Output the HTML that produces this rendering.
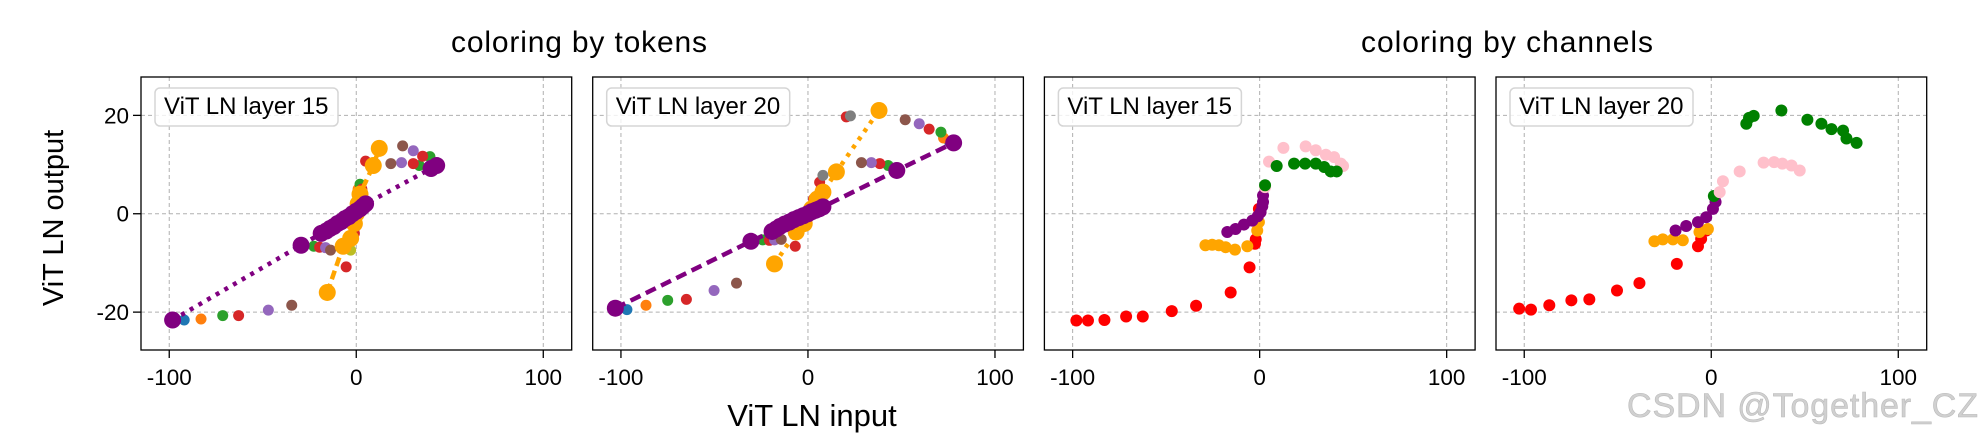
<!DOCTYPE html>
<html><head><meta charset="utf-8"><style>
html,body{margin:0;padding:0;background:#fff}
svg{display:block;font-family:"Liberation Sans",Arial,sans-serif}
</style></head><body>
<svg id="fig" width="1982" height="442" viewBox="0 0 1982 442" xmlns="http://www.w3.org/2000/svg">
<text x="579" y="52" font-size="30" text-anchor="middle" textLength="256">coloring by tokens</text>
<text x="1507" y="52" font-size="30" text-anchor="middle" textLength="292">coloring by channels</text>
<text x="0" y="0" font-size="29" text-anchor="middle" transform="translate(63,218) rotate(-90)">ViT LN output</text>
<text x="812" y="426" font-size="31" text-anchor="middle">ViT LN input</text>
<text x="1627" y="417" font-size="34" fill="#d0d0d0" stroke="#bbb" stroke-width="0.6" textLength="351">CSDN @Together_CZ</text>
</svg>
<script>
const xTicks=[-100,0,100];
const yTicks=[-20,0,20];
const legendLabels=["ViT LN layer 15","ViT LN layer 20","ViT LN layer 15","ViT LN layer 20"];

// panel 1: tokens, layer 15
const t15Blue=[[-92,-21.6],[-1,-3],[1,4]];
const t15Orange=[[-83,-21.4],[1,5]];
const t15Green=[[-71.4,-20.7],[-22.7,-6.6],[39.4,11.6],[33.7,9.8],[2,6]];
const t15Red=[[-62.9,-20.7],[-19.6,-6.8],[35.5,11.7],[30.5,10.2],[5,10.7],[-5.4,-10.8],[3,5],[1,3],[-1,-4],[2,2],[-2,-5]];
const t15Lpurple=[[-47,-19.6],[-16.4,-6.9],[30.5,12.8],[24.2,10.4]];
const t15Brown=[[-34.5,-18.6],[-13.75,-7.4],[24.8,13.8],[18.5,10.2]];
const t15Olive=[[-3,-7.4]];
const t15BigOrange=[[-15.5,-16],[-7,-6.6],[-3,-5],[-1,-2],[0,0],[1,2],[2,4],[9.1,9.8],[12.3,13.3]];
const t15BigPurple=[[-98.2,-21.6],[-29.5,-6.4],[-18.75,-4],[-16,-3.5],[-14,-3],[-12,-2.6],[-10,-2],[-8,-1.6],[-6,-1],[-4,-0.6],[-2,0],[0,0.5],[2,1],[3.5,1.5],[5,2],[40,9.2],[43,9.8]];

// panel 2: tokens, layer 20
const t20Blue=[[-96.8,-19.5],[75.7,14.6]];
const t20Orange=[[-86.6,-18.6],[72.5,15.4]];
const t20Green=[[-75,-17.6],[-24.2,-5.3],[71.1,16.6],[42.9,9.8]];
const t20Red=[[-65,-17.4],[-20.6,-5.4],[-6.8,-6.6],[64.8,17.2],[38.4,10.2],[20.5,19.7],[6.25,6.4],[7,5],[3,3]];
const t20Lpurple=[[-50.2,-15.6],[-17.9,-5.3],[59.5,18.3],[33.9,10.4]];
const t20Brown=[[-38.2,-14.1],[-14.3,-5.2],[52,19.1],[28.6,10.4]];
const t20Gray=[[22.7,19.9],[8,7.8]];
const t20BigOrange=[[-17.9,-10.2],[-6.3,-3.7],[-2,-2],[2,1],[5,3],[8,4.4],[15.2,8.5],[38,21]];
const t20BigPurple=[[-103,-19.2],[-30.5,-5.6],[-19.2,-3.6],[-17,-3.1],[-15,-2.6],[-12.5,-2.1],[-10,-1.7],[-7.5,-1.2],[-5,-0.8],[-2.5,-0.4],[0,0],[2,0.4],[4,0.7],[6,1],[8,1.4],[47.5,8.8],[77.9,14.4]];

// panel 3: channels, layer 15
const c15Red=[[-98,-21.7],[-91.8,-21.7],[-83,-21.6],[-71.4,-20.9],[-62.5,-20.9],[-47,-19.8],[-34,-18.7],[-15.5,-16],[-5.4,-10.9],[-2.5,-6.1],[-2.1,-5.2],[-1.2,-1.7],[-0.4,1]];
const c15Orange=[[-29,-6.4],[-25.4,-6.3],[-21.8,-6.4],[-18.2,-6.8],[-13.2,-7.3],[-6.6,-6.6],[-1.3,-3.4],[-0.4,-1.7]];
const c15Purple=[[-17.3,-3.7],[-12.9,-3.1],[-8.4,-2.2],[-3.9,-1.4],[-1,-0.5],[0.5,0.3],[1.4,1.5],[1.8,2.4],[1.8,3.7]];
const c15Pink=[[2.9,5.4],[5,10.6],[12.7,13.4],[24.6,13.7],[30,12.9],[35.4,12],[39.8,11.5],[43.4,10.2],[44.6,9.7]];
const c15Green=[[2.9,5.8],[9.1,9.7],[18.4,10.2],[24.3,10.2],[30,10.2],[34.5,9.5],[38,8.6],[41.2,8.6]];

// panel 4: channels, layer 20
const c20Red=[[-102.7,-19.3],[-96.4,-19.5],[-86.6,-18.6],[-74.8,-17.6],[-65.2,-17.4],[-50.4,-15.6],[-38.4,-14.1],[-18.4,-10.2],[-7.1,-6.6],[-5.4,-5.1],[-2.7,-3.4]];
const c20Orange=[[-30.4,-5.6],[-25.9,-5.2],[-20.5,-5.2],[-15.2,-5.4],[-6.3,-3.7],[-1.8,-3.1]];
const c20Purple=[[-19.1,-3.4],[-13.4,-2.5],[-7.1,-1.7],[-2.7,-0.7],[0.9,1],[2.3,2.4],[1.8,3.4]];
const c20Green=[[1.4,3.6],[18.75,18.3],[20.2,19.5],[22.7,19.9],[37.5,21],[51.4,19.1],[58.9,18.3],[64.3,17.2],[70.5,16.9],[72.3,15.3],[77.7,14.4]];
const c20Pink=[[4.5,4.4],[6.25,6.6],[15.2,8.6],[28,10.4],[33.6,10.5],[38,10.2],[42.9,9.8],[47.3,8.8]];

const NS="http://www.w3.org/2000/svg";
const svg=document.getElementById('fig');
const lefts=[141,592.7,1044.4,1496];
const PW=430.7, TOP=77, BOT=350;
const XMIN=-115.1, XMAX=115.2, YMIN=-27.7, YMAX=27.8;
function mk(tag,attrs,parent){const e=document.createElementNS(NS,tag);for(const k in attrs)e.setAttribute(k,attrs[k]);(parent||svg).appendChild(e);return e;}
function sx(L,v){return L+(v-XMIN)/(XMAX-XMIN)*PW;}
function sy(v){return BOT-(v-YMIN)/(YMAX-YMIN)*(BOT-TOP);}

const panelSeries=[
 [[t15Blue,'#1f77b4'],[t15Orange,'#ff7f0e'],[t15Green,'#2ca02c'],[t15Red,'#d62728'],[t15Lpurple,'#9467bd'],[t15Brown,'#8c564b'],[t15Olive,'#bcbd22'],[t15BigOrange,'#ffa500','big','9,5'],[t15BigPurple,'#800080','big','4,6']],
 [[t20Blue,'#1f77b4'],[t20Orange,'#ff7f0e'],[t20Green,'#2ca02c'],[t20Red,'#d62728'],[t20Lpurple,'#9467bd'],[t20Brown,'#8c564b'],[t20Gray,'#7f7f7f'],[t20BigOrange,'#ffa500','big','4,6'],[t20BigPurple,'#800080','big','11,6']],
 [[c15Red,'#ff0000'],[c15Orange,'#ffa500'],[c15Purple,'#800080'],[c15Pink,'#ffc0cb'],[c15Green,'#008000']],
 [[c20Red,'#ff0000'],[c20Orange,'#ffa500'],[c20Purple,'#800080'],[c20Green,'#008000'],[c20Pink,'#ffc0cb']]
];

lefts.forEach((L,i)=>{
  const g=mk('g',{});
  
  
  xTicks.forEach(t=>{
    const gl=mk('line',{x1:sx(L,t),x2:sx(L,t),y1:TOP,y2:BOT,stroke:'#b0b0b0','stroke-width':1,'stroke-dasharray':'4,3'},g);
    
    
    const tk=mk('line',{x1:sx(L,t),x2:sx(L,t),y1:BOT,y2:BOT+8,stroke:'#000','stroke-width':1.3},g);
    
    
    const tl=mk('text',{x:sx(L,t),y:BOT+35,'font-size':22.5,'text-anchor':'middle'},g);
    
    
    tl.textContent=String(t);
  });
  yTicks.forEach(t=>{
    const gl=mk('line',{x1:L,x2:L+PW,y1:sy(t),y2:sy(t),stroke:'#b0b0b0','stroke-width':1,'stroke-dasharray':'4,3'},g);
    
    
    if(i===0){
      const tk=mk('line',{x1:L-8,x2:L,y1:sy(t),y2:sy(t),stroke:'#000','stroke-width':1.3},g);
      
      
      const tl=mk('text',{x:L-12,y:sy(t)+8,'font-size':22.5,'text-anchor':'end'},g);
      
      
      tl.textContent=String(t);
    }
  });
  panelSeries[i].forEach(s=>{
    const pts=s[0], col=s[1], big=s[2]==='big';
    if(big){
      const pl=mk('polyline',{points:pts.map(p=>sx(L,p[0])+','+sy(p[1])).join(' '),fill:'none',stroke:col,'stroke-width':4.5,'stroke-dasharray':s[3]},g);
      
      
    }
    pts.forEach(p=>{
      const c=mk('circle',{cx:sx(L,p[0]),cy:sy(p[1]),r:big?8.5:(i>=2?6:5.5),fill:col},g);
      
      
    });
  });
  const fr=mk('rect',{x:L,y:TOP,width:PW,height:BOT-TOP,fill:'none',stroke:'#000','stroke-width':1.3},g);
  
  
  const lb=mk('rect',{x:L+14,y:88,width:183,height:38,rx:5,fill:'#fff','fill-opacity':0.8,stroke:'#d5d5d5','stroke-width':1.5},g);
  
  
  const lt=mk('text',{x:L+23,y:114,'font-size':24},g);
  
  
  lt.textContent=legendLabels[i];
});
</script>
</body></html>
